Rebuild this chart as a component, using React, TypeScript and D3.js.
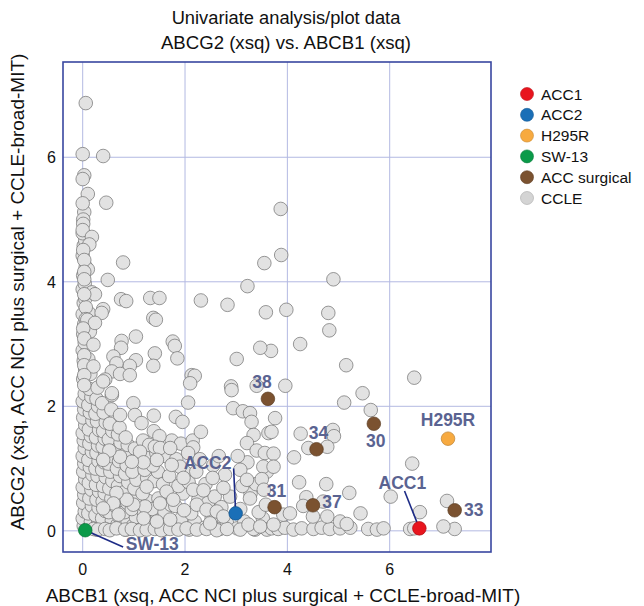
import React, { useEffect, useRef } from 'react'
import * as d3 from 'd3'

// ---- data ----
const xTicks = [0, 2, 4, 6]
const yTicks = [0, 2, 4, 6]

const acc1 = [[6.58, 0.04]]
const acc2 = [[2.99, 0.28]]
const h295r = [[7.14, 1.48]]
const sw13 = [[0.05, 0.01]]

const surgicalIds = ['38', '34', '30', '31', '37', '33']
const surgical = [[3.62, 2.12], [4.57, 1.31], [5.69, 1.72], [3.75, 0.38], [4.5, 0.41], [7.27, 0.33]]

// sparse CCLE points, upper part and right side
const ccleSparse = [
  [0.06, 6.87], [0.0, 6.05], [0.4, 6.02], [0.03, 5.71], [0.0, 5.65], [0.1, 5.41], [0.0, 5.26], [0.46, 5.27], [3.87, 5.17],
  [0.01, 4.93], [0.0, 4.83], [0.18, 4.72], [0.13, 4.6], [0.01, 4.51], [0.03, 4.35], [0.79, 4.31], [0.03, 4.16], [0.03, 4.04], [0.49, 4.03],
  [3.55, 4.3], [3.88, 4.43], [4.9, 4.04],
  [0.18, 3.83], [0.24, 3.8], [0.03, 3.8], [0.75, 3.72], [0.85, 3.69], [1.32, 3.74], [1.5, 3.74], [2.31, 3.7], [2.83, 3.63], [3.22, 3.93],
  [3.58, 3.51], [3.98, 3.55], [4.8, 3.5], [4.82, 3.22], [4.25, 3.0], [3.68, 2.89], [3.47, 2.94], [5.15, 2.66], [6.48, 2.46],
  [3.96, 2.33], [5.47, 2.21], [5.11, 2.06], [5.63, 1.94], [3.76, 1.81], [3.69, 1.59], [4.26, 1.56], [4.89, 1.62], [4.91, 1.52],
  [4.41, 1.33], [4.78, 1.35], [4.13, 1.18], [3.73, 1.24], [3.73, 1.03], [6.44, 1.08], [4.23, 0.78], [4.76, 0.75], [5.21, 0.61],
  [6.02, 0.55], [4.37, 0.54], [4.31, 0.4], [4.7, 0.47], [5.43, 0.28], [6.59, 0.3], [7.12, 0.48], [3.92, 0.26], [4.05, 0.28],
  [4.5, 0.23], [4.78, 0.23], [5.03, 0.15], [5.16, 0.11], [7.05, 0.07],
]

// middle cloud, 2-3.6 on the y axis
const ccleMid = [
  [0.06, 3.59], [0.4, 3.56], [0.37, 3.5], [0.06, 3.4], [0.09, 3.39], [0.24, 3.34], [1.38, 3.42], [1.43, 3.39], [0.01, 3.25],
  [0.03, 3.09], [1.04, 3.12], [0.76, 3.05], [0.75, 2.94], [1.76, 3.04], [1.8, 2.97], [1.85, 2.77], [1.41, 2.85], [1.38, 2.65],
  [1.04, 2.74], [0.92, 2.65], [0.6, 2.8], [0.66, 2.69], [0.57, 2.56], [0.73, 2.52], [0.92, 2.5], [0.44, 2.43], [0.4, 2.4],
  [0.03, 2.82], [0.21, 2.99], [0.03, 2.66], [0.21, 2.64], [0.03, 2.5], [0.03, 2.34], [0.57, 2.21], [2.13, 2.5], [2.19, 2.49],
  [2.1, 2.37], [3.01, 2.76], [2.9, 2.32], [3.4, 2.33], [2.91, 2.26],
]

// dense lower cloud
const ccleDense = [
  [2.06, 2.06], [2.94, 1.97], [3.13, 1.92], [3.27, 1.89], [3.3, 1.75], [0.99, 2.05], [0.57, 2.18], [0.73, 1.86], [1.02, 1.86],
  [1.15, 1.73], [1.39, 1.85], [1.82, 1.83], [1.95, 1.75], [2.31, 1.59], [3.63, 1.57], [3.34, 1.54], [3.21, 1.41], [3.4, 1.29],
  [3.56, 1.25], [2.16, 1.34], [2.06, 1.25], [1.5, 1.52], [1.3, 1.38], [1.41, 1.35], [1.51, 1.33], [1.71, 1.33], [1.12, 1.27],
  [1.9, 1.03], [1.74, 1.06], [1.45, 1.14], [1.19, 1.1], [0.96, 1.11], [0.73, 1.19], [0.52, 1.29], [0.4, 1.14], [3.53, 1.03],
  [3.08, 0.98], [3.21, 0.82], [3.5, 0.83], [2.54, 0.85], [1.97, 0.85], [2.16, 0.66], [2.36, 0.65], [2.75, 0.69], [3.27, 0.52],
  [3.54, 0.66], [1.25, 0.71], [1.64, 0.63], [1.77, 0.5], [1.51, 0.44], [1.22, 0.39], [0.99, 0.42], [1.98, 0.33], [2.23, 0.42],
  [2.42, 0.34], [2.62, 0.31], [2.75, 0.23], [0.86, 0.5], [0.66, 0.61], [0.6, 0.44], [0.4, 0.36], [0.7, 0.26], [1.19, 0.2],
  [1.45, 0.15], [1.71, 0.18], [2.49, 0.12], [3.24, 0.1], [3.47, 0.07], [3.73, 0.1],
]

// left spine near x = 0
const ccleSpine = [
  [0.02, 0.08], [0.0, 0.2], [0.04, 0.31], [0.01, 0.45], [0.03, 0.58], [0.0, 0.7], [0.05, 0.83], [0.01, 0.95], [0.03, 1.08],
  [0.0, 1.2], [0.04, 1.33], [0.02, 1.45], [0.0, 1.57], [0.05, 1.7], [0.01, 1.82], [0.03, 1.95], [0.0, 2.08], [0.04, 2.2],
  [0.01, 2.44], [0.05, 2.58], [0.02, 2.73], [0.0, 2.9], [0.04, 3.02], [0.01, 3.16], [0.03, 3.32], [0.0, 3.48], [0.02, 3.66],
  [0.05, 3.73], [0.0, 3.88], [0.04, 3.97], [0.01, 4.1], [0.06, 4.24], [0.0, 4.42], [0.02, 4.58], [0.05, 4.66], [0.0, 4.78],
  [0.03, 5.12], [0.01, 5.0],
  [0.12, 0.05], [0.16, 0.15], [0.11, 0.28], [0.18, 0.4], [0.13, 0.52], [0.17, 0.66], [0.12, 0.77], [0.19, 0.9], [0.14, 1.02],
  [0.11, 1.14], [0.18, 1.27], [0.13, 1.4], [0.16, 1.52], [0.12, 1.63], [0.19, 1.77], [0.14, 1.9], [0.11, 2.02], [0.17, 2.15],
  [0.13, 2.28], [0.15, 2.52], [0.11, 2.76], [0.14, 3.2], [0.12, 3.5], [0.1, 4.2],
  [0.27, 0.02], [0.3, 0.12], [0.25, 0.25], [0.31, 0.37], [0.27, 0.5], [0.32, 0.63], [0.26, 0.74], [0.29, 0.88], [0.25, 1.0],
  [0.31, 1.12], [0.27, 1.25], [0.3, 1.37], [0.26, 1.5], [0.32, 1.62], [0.28, 1.76], [0.25, 1.88], [0.3, 2.0], [0.27, 2.12],
  [0.29, 2.3],
  [0.41, 0.08], [0.38, 0.2], [0.44, 0.32], [0.39, 0.47], [0.43, 0.6], [0.4, 0.72], [0.45, 0.86], [0.38, 0.98], [0.42, 1.1],
  [0.44, 1.23], [0.39, 1.35], [0.43, 1.48], [0.4, 1.6], [0.45, 1.74], [0.41, 1.9], [0.38, 2.05],
  [0.53, 0.05], [0.57, 0.17], [0.51, 0.3], [0.56, 0.52], [0.52, 0.68], [0.58, 0.8], [0.54, 0.95], [0.5, 1.08], [0.57, 1.2],
  [0.55, 1.35], [0.51, 1.47], [0.58, 1.6], [0.53, 1.72], [0.56, 1.95],
  [0.68, 0.1], [0.72, 0.22], [0.66, 0.38], [0.74, 0.5], [0.69, 0.72], [0.73, 0.88], [0.67, 1.0], [0.71, 1.12], [0.66, 1.3],
  [0.74, 1.42], [0.69, 1.55], [0.72, 1.66],
  [0.84, 0.02], [0.88, 0.15], [0.82, 0.3], [0.87, 0.45], [0.81, 0.62], [0.89, 0.78], [0.83, 0.92], [0.86, 1.05], [0.82, 1.22],
  [0.88, 1.38], [0.84, 1.5],
]

// outer cloud columns and bottom band
const ccleBand = [
  [0.98, 0.08], [1.04, 0.22], [0.96, 0.35], [1.07, 0.55], [1.01, 0.68], [1.05, 0.82], [0.97, 0.95], [1.08, 1.2], [1.02, 1.32],
  [1.16, 0.03], [1.24, 0.12], [1.2, 0.28], [1.28, 0.48], [1.17, 0.6], [1.26, 0.85], [1.21, 0.98], [1.29, 1.2], [1.18, 1.45],
  [1.38, 0.06], [1.46, 0.25], [1.36, 0.35], [1.48, 0.52], [1.4, 0.8], [1.47, 0.95], [1.37, 1.05], [1.44, 1.25], [1.39, 1.6],
  [1.58, 0.02], [1.66, 0.12], [1.6, 0.3], [1.72, 0.42], [1.57, 0.75], [1.69, 0.88], [1.62, 1.2], [1.74, 1.45],
  [1.84, 0.04], [1.93, 0.2], [1.81, 0.4], [1.96, 0.6], [1.87, 0.72], [1.99, 0.95], [1.83, 1.15], [1.92, 1.4],
  [2.08, 0.02], [2.19, 0.15], [2.12, 0.28], [2.26, 0.5], [2.07, 0.78], [2.22, 0.95], [2.29, 1.15], [2.15, 1.45],
  [2.38, 0.05], [2.52, 0.2], [2.45, 0.45], [2.58, 0.55], [2.4, 0.75], [2.55, 1.05],
  [2.68, 0.03], [2.82, 0.12], [2.71, 0.38], [2.88, 0.55], [2.78, 0.9], [2.66, 1.2],
  [3.02, 0.04], [3.16, 0.15], [3.08, 0.35], [3.28, 0.6], [3.12, 0.72], [3.22, 1.1], [3.03, 1.2],
  [3.37, 0.02], [3.52, 0.2], [3.44, 0.3], [3.58, 0.42], [3.39, 0.75], [3.6, 0.95],
  [0.21, 0.03], [0.3, 0.02], [0.44, 0.03], [0.53, 0.01], [0.66, 0.04], [0.83, 0.02], [0.96, 0.03], [1.12, 0.01], [1.25, 0.02],
  [1.41, 0.03], [1.54, 0.01], [1.71, 0.03], [1.87, 0.02], [2.03, 0.04], [2.23, 0.02], [2.42, 0.03], [2.62, 0.01], [2.82, 0.03],
  [3.08, 0.02], [3.34, 0.03], [3.6, 0.02], [3.69, 0.04], [3.82, 0.03], [3.95, 0.05], [4.12, 0.02], [4.28, 0.04], [4.51, 0.03],
  [4.67, 0.05], [4.83, 0.03], [5.03, 0.04], [5.23, 0.05], [5.58, 0.03], [5.75, 0.02], [5.88, 0.04], [6.4, 0.03], [6.48, 0.04],
  [7.27, 0.03],
]

const legendNames = ['ACC1', 'ACC2', 'H295R', 'SW-13', 'ACC surgical', 'CCLE']
const legendColors = ['#e8151e', '#1a6fb7', '#f7aa40', '#0b9a49', '#7b5230', '#d4d4d4']

const W = 644
const H = 606

export default function App() {
  const ref = useRef<SVGSVGElement>(null)

  useEffect(() => {
    const svg = d3.select(ref.current)
    svg.selectAll('*').remove()

    const left = 63, right = 491, top = 62, bottom = 552
    const x = d3.scaleLinear().domain([-0.385, 7.98]).range([left, right])
    const y = d3.scaleLinear().domain([-0.34, 7.53]).range([bottom, top])
    const font = 'Liberation Sans, Arial, Helvetica, sans-serif'
    const labelColor = '#5a6391'
    const leaderColor = '#1d2b86'
    const r = 6.8

    // grid
    const grid = svg.append('g')
    grid.selectAll('line.gx').data(xTicks).join('line')
      .attr('x1', d => x(d)).attr('x2', d => x(d))
      .attr('y1', top).attr('y2', bottom)
      .attr('stroke', '#b3b9e2').attr('stroke-width', 1)
    grid.selectAll('line.gy').data(yTicks).join('line')
      .attr('x1', left).attr('x2', right)
      .attr('y1', d => y(d)).attr('y2', d => y(d))
      .attr('stroke', '#b3b9e2').attr('stroke-width', 1)

    // leader lines, drawn under the coloured points
    const leaders = [
      { from: [2.95, 1.0], to: acc2[0] },
      { from: [6.29, 0.64], to: acc1[0] },
      { from: [0.79, -0.26], to: sw13[0] },
    ]

    // CCLE points
    const ccle = [...ccleSpine, ...ccleBand, ...ccleDense, ...ccleMid, ...ccleSparse]
    svg.append('g').selectAll('circle').data(ccle).join('circle')
      .attr('cx', d => x(d[0])).attr('cy', d => y(d[1])).attr('r', r)
      .attr('fill', '#e2e2e2').attr('stroke', '#6f6f6f').attr('stroke-width', 0.7)

    svg.append('g').selectAll('line').data(leaders).join('line')
      .attr('x1', d => x(d.from[0])).attr('y1', d => y(d.from[1]))
      .attr('x2', d => x(d.to[0])).attr('y2', d => y(d.to[1]))
      .attr('stroke', leaderColor).attr('stroke-width', 1.6)

    // coloured points
    const groups = [
      { pts: surgical, color: legendColors[4] },
      { pts: acc2, color: legendColors[1] },
      { pts: acc1, color: legendColors[0] },
      { pts: h295r, color: legendColors[2] },
      { pts: sw13, color: legendColors[3] },
    ]
    groups.forEach(g => {
      svg.append('g').selectAll('circle').data(g.pts).join('circle')
        .attr('cx', d => x(d[0])).attr('cy', d => y(d[1])).attr('r', r)
        .attr('fill', g.color).attr('stroke', d3.color(g.color)!.darker(0.8).toString()).attr('stroke-width', 0.7)
    })

    // point labels
    const labels = [
      { t: surgicalIds[0], p: surgical[0], dx: -6, dy: -11 },
      { t: surgicalIds[1], p: surgical[1], dx: 2, dy: -10 },
      { t: surgicalIds[2], p: surgical[2], dx: 2, dy: 23 },
      { t: surgicalIds[3], p: surgical[3], dx: 2, dy: -10 },
      { t: surgicalIds[4], p: surgical[4], dx: 19, dy: 3 },
      { t: surgicalIds[5], p: surgical[5], dx: 19, dy: 6 },
      { t: 'H295R', p: h295r[0], dx: 0, dy: -13 },
      { t: 'ACC1', p: acc1[0], dx: -17, dy: -39 },
      { t: 'ACC2', p: acc2[0], dx: -28, dy: -44 },
      { t: 'SW-13', p: sw13[0], dx: 67, dy: 20 },
    ]
    svg.append('g').selectAll('text').data(labels).join('text')
      .attr('x', d => x(d.p[0]) + d.dx).attr('y', d => y(d.p[1]) + d.dy)
      .attr('text-anchor', 'middle')
      .attr('font-family', font).attr('font-weight', 'bold').attr('font-size', 17.5)
      .attr('fill', labelColor)
      .text(d => d.t)

    // frame
    svg.append('rect')
      .attr('x', left).attr('y', top).attr('width', right - left).attr('height', bottom - top)
      .attr('fill', 'none').attr('stroke', '#3947a0').attr('stroke-width', 1.6)

    // tick labels
    svg.append('g').selectAll('text').data(xTicks).join('text')
      .attr('x', d => x(d)).attr('y', 575)
      .attr('text-anchor', 'middle').attr('font-family', font).attr('font-size', 16).attr('fill', '#111')
      .text(d => d)
    svg.append('g').selectAll('text').data(yTicks).join('text')
      .attr('x', 56).attr('y', d => y(d) + 6)
      .attr('text-anchor', 'end').attr('font-family', font).attr('font-size', 16).attr('fill', '#111')
      .text(d => d)

    // titles
    svg.append('text').attr('x', 286).attr('y', 24).attr('text-anchor', 'middle')
      .attr('font-family', font).attr('font-size', 18.3).attr('fill', '#111')
      .text('Univariate analysis/plot data')
    svg.append('text').attr('x', 286).attr('y', 49).attr('text-anchor', 'middle')
      .attr('font-family', font).attr('font-size', 18.6).attr('fill', '#111')
      .text('ABCG2 (xsq) vs. ABCB1 (xsq)')
    svg.append('text').attr('x', 283).attr('y', 602).attr('text-anchor', 'middle')
      .attr('font-family', font).attr('font-size', 19).attr('fill', '#111')
      .text('ABCB1 (xsq, ACC NCI plus surgical + CCLE-broad-MIT)')
    svg.append('text')
      .attr('transform', `translate(24,292) rotate(-90)`)
      .attr('text-anchor', 'middle')
      .attr('font-family', font).attr('font-size', 19).attr('fill', '#111')
      .text('ABCG2 (xsq, ACC NCI plus surgical + CCLE-broad-MIT)')

    // legend
    const lg = svg.append('g').selectAll('g').data(legendNames).join('g')
      .attr('transform', (d, i) => `translate(527,${94 + i * 20.8})`)
    lg.append('circle').attr('r', 6.5)
      .attr('fill', (d, i) => legendColors[i])
      .attr('stroke', (d, i) => i === 5 ? '#a8a8a8' : d3.color(legendColors[i])!.darker(0.6).toString())
      .attr('stroke-width', 0.6)
    lg.append('text').attr('x', 14).attr('y', 5.5)
      .attr('font-family', font).attr('font-size', 15.5).attr('fill', '#111')
      .text(d => d)
  }, [])

  return (
    <svg ref={ref} width={W} height={H}
      style={{ position: 'absolute', left: 0, top: 0, display: 'block', background: '#fff' }} />
  )
}
